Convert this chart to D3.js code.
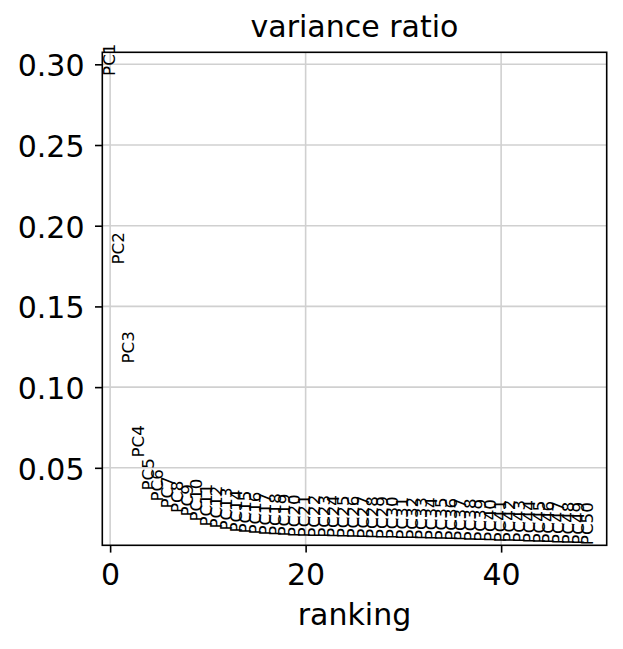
<!DOCTYPE html>
<html>
<head>
<meta charset="utf-8">
<style>
    body { margin: 0; background: white; }
    svg { font-family: 'DejaVu Sans', sans-serif; }
</style>
</head>
<body>
<svg width="623" height="649"></svg>
<script src="https://d3js.org/d3.v7.min.js"></script>
<script>
    // variance ratio of each PC
    let variance = [0.2928, 0.1760, 0.1146, 0.0564, 0.0359, 0.0291, 0.0248, 0.0220, 0.0198, 0.0167,
        0.0136, 0.0124, 0.0112, 0.0099, 0.0093, 0.0087, 0.0080, 0.0077, 0.0074, 0.0070,
        0.0069, 0.0067, 0.0066, 0.0065, 0.0063, 0.0062, 0.0061, 0.0059, 0.0058, 0.0057,
        0.0055, 0.0054, 0.0053, 0.0051, 0.0050, 0.0048, 0.0046, 0.0044, 0.0042, 0.0040,
        0.0038, 0.0037, 0.0035, 0.0033, 0.0031, 0.0029, 0.0027, 0.0025, 0.0023, 0.0021];
    let pcLabels = variance.map((v, i) => "PC" + (i + 1));
    let xTicks = [0, 20, 40];
    let yTicks = [0.05, 0.10, 0.15, 0.20, 0.25, 0.30];

    let axLeft = 102.3, axRight = 606.7, axTop = 52.3, axBottom = 545.3;
    let svg = d3.select("svg");

    let x = d3.scaleLinear().domain([-0.8, 50.8]).range([axLeft, axRight]);
    // same limits the ranking plot uses: 0.95*min .. 1.05*max
    let y = d3.scaleLinear()
        .domain([0.95 * d3.min(variance), 1.05 * d3.max(variance)])
        .range([axBottom, axTop]);

    // grid
    svg.append("g").selectAll("line").data(xTicks).join("line")
        .attr("x1", d => x(d)).attr("x2", d => x(d))
        .attr("y1", axTop).attr("y2", axBottom)
        .style("stroke", "#d0d0d0").style("stroke-width", 1.6);
    svg.append("g").selectAll("line").data(yTicks).join("line")
        .attr("y1", d => y(d)).attr("y2", d => y(d))
        .attr("x1", axLeft).attr("x2", axRight)
        .style("stroke", "#d0d0d0").style("stroke-width", 1.6);

    // axes
    let xAxis = svg.append("g")
        .attr("transform", `translate(0,${axBottom})`)
        .call(d3.axisBottom(x).tickValues(xTicks).tickFormat(d3.format("d")).tickSizeOuter(0).tickSize(7.3).tickPadding(8));
    let yAxis = svg.append("g")
        .attr("transform", `translate(${axLeft},0)`)
        .call(d3.axisLeft(y).tickValues(yTicks).tickFormat(d3.format(".2f")).tickSizeOuter(0).tickSize(7.3).tickPadding(10.5));
    [xAxis, yAxis].forEach(a => {
        a.select(".domain").remove();
        a.selectAll("line").style("stroke", "#000").style("stroke-width", 1.6);
        a.selectAll("text").style("font-size", "30px").style("font-family", "'DejaVu Sans'").style("fill", "#000");
    });
    xAxis.selectAll("text").attr("dy", null).attr("y", 40);
    yAxis.selectAll("text").attr("dy", "0.38em");

    // PC labels, written upward from each value
    svg.append("g").selectAll("text").data(variance).join("text")
        .attr("transform", (d, i) => `translate(${x(i)},${y(d)}) rotate(-90)`)
        .attr("dy", "0.262em")
        .style("font-size", "16.7px")
        .style("fill", "#000")
        .text((d, i) => pcLabels[i]);

    // frame
    svg.append("rect")
        .attr("x", axLeft).attr("y", axTop)
        .attr("width", axRight - axLeft).attr("height", axBottom - axTop)
        .style("fill", "none").style("stroke", "#000").style("stroke-width", 1.6);

    svg.append("text").attr("x", (axLeft + axRight) / 2).attr("y", 36.7)
        .attr("text-anchor", "middle").style("font-size", "30px").text("variance ratio");
    svg.append("text").attr("x", (axLeft + axRight) / 2).attr("y", 625)
        .attr("text-anchor", "middle").style("font-size", "30px").text("ranking");
</script>
</body>
</html>
